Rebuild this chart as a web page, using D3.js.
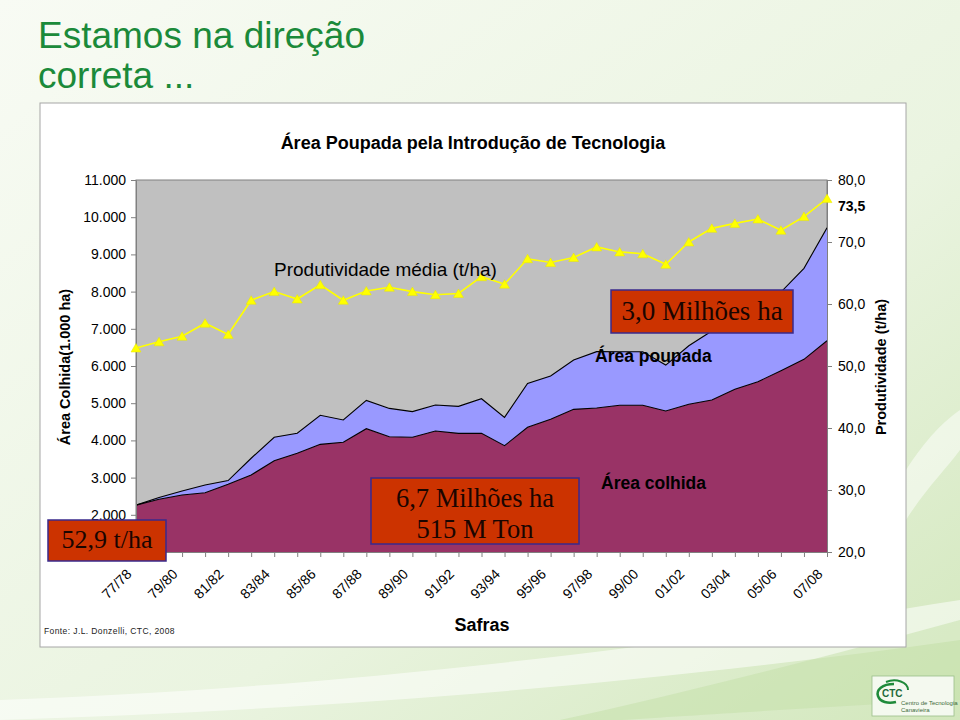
<!DOCTYPE html>
<html>
<head>
<meta charset="utf-8">
<script src="https://cdn.jsdelivr.net/npm/d3@7"></script>
<style>
  html, body { margin: 0; padding: 0; background: #ffffff; }
  svg { display: block; }
</style>
</head>
<body>
<svg id="chart" width="960" height="720" font-family="'Liberation Sans', Arial, sans-serif"></svg>
<script>
// ---------- DATA ----------
const seasons = ["77/78","78/79","79/80","80/81","81/82","82/83","83/84","84/85","85/86","86/87",
  "87/88","88/89","89/90","90/91","91/92","92/93","93/94","94/95","95/96","96/97",
  "97/98","98/99","99/00","00/01","01/02","02/03","03/04","04/05","05/06","06/07","07/08"];
const tickLabels = ["77/78","79/80","81/82","83/84","85/86","87/88","89/90","91/92",
  "93/94","95/96","97/98","99/00","01/02","03/04","05/06","07/08"];
// Área colhida (1.000 ha)
const areaColhida = [2260,2417,2532,2594,2820,3070,3455,3652,3894,3948,4315,4100,4083,4253,4190,4190,
  3858,4351,4566,4835,4871,4943,4943,4790,4970,5086,5373,5578,5873,6180,6680];
// Área poupada (1.000 ha), stacked on top of área colhida
const areaPoupada = [0,50,110,205,100,450,630,540,780,600,760,760,690,700,725,930,
  760,1180,1165,1325,1515,1440,1440,1235,1575,1855,2025,2180,2115,2445,3035];
// Produtividade média (t/ha)
const produtividade = [52.9,53.9,54.8,56.9,55.1,60.6,62.0,60.8,63.1,60.6,62.1,62.7,62.0,61.5,61.7,64.4,
  63.2,67.3,66.7,67.5,69.2,68.4,68.1,66.4,70.0,72.2,73.0,73.7,71.9,74.1,77.0];
const leftTicks = [1000,2000,3000,4000,5000,6000,7000,8000,9000,10000,11000];
const rightTicks = [20,30,40,50,60,70,80];

// ---------- SETUP ----------
const svg = d3.select("#chart");
const W = 960, H = 720;
const plot = { left: 136, right: 827, top: 180, bottom: 552 };
const serif = "'Liberation Serif', 'Times New Roman', serif";

const ptLocale = d3.formatLocale({ decimal: ",", thousands: ".", grouping: [3], currency: ["", ""] });
const fmtLeft = v => v === 1000 ? "" : ptLocale.format(",d")(v);   // 1.000 is hidden behind the box
const fmtRight = ptLocale.format(".1f");

// ---------- BACKGROUND ----------
const defs = svg.append("defs");
const bg = defs.append("linearGradient").attr("id", "bg").attr("x1", "0").attr("y1", "0").attr("x2", "1").attr("y2", "1");
bg.append("stop").attr("offset", "0%").attr("stop-color", "#f8fbf4");
bg.append("stop").attr("offset", "60%").attr("stop-color", "#eaf4e0");
bg.append("stop").attr("offset", "100%").attr("stop-color", "#d2e7bc");
svg.append("rect").attr("width", W).attr("height", H).attr("fill", "url(#bg)");
svg.append("path")
  .attr("d", "M0,700 C250,690 520,670 960,600 L960,640 C600,690 300,710 0,720 Z")
  .attr("fill", "#ffffff").attr("opacity", 0.55);
svg.append("path")
  .attr("d", "M906,470 C925,440 945,420 960,410 L960,450 C945,470 925,490 906,520 Z")
  .attr("fill", "#ffffff").attr("opacity", 0.5);
svg.append("path")
  .attr("d", "M560,720 C700,690 850,650 960,620 L960,700 C850,705 700,715 620,720 Z")
  .attr("fill", "#c4e0a8").attr("opacity", 0.5);

// Slide title
const title = svg.append("text").attr("fill", "#1b8a3a").attr("font-size", 37);
title.append("tspan").attr("x", 38).attr("y", 48).text("Estamos na direção");
title.append("tspan").attr("x", 38).attr("y", 88).text("correta ...");

// Chart card
svg.append("rect").attr("x", 40).attr("y", 103).attr("width", 866).attr("height", 544)
  .attr("fill", "#ffffff").attr("stroke", "#a6a6a6").attr("stroke-width", 1);

// ---------- SCALES ----------
const x = d3.scalePoint().domain(seasons).range([plot.left, plot.right]);
const yL = d3.scaleLinear().domain([1000, 11000]).range([plot.bottom, plot.top]);
const yR = d3.scaleLinear().domain([20, 80]).range([plot.bottom, plot.top]);

svg.append("rect").attr("x", plot.left).attr("y", plot.top)
  .attr("width", plot.right - plot.left).attr("height", plot.bottom - plot.top)
  .attr("fill", "#c0c0c0").attr("stroke", "#808080").attr("stroke-width", 1);

defs.append("clipPath").attr("id", "plotclip").append("rect")
  .attr("x", plot.left).attr("y", plot.top)
  .attr("width", plot.right - plot.left).attr("height", plot.bottom - plot.top);

// ---------- STACKED AREAS ----------
const rows = seasons.map((s, i) => ({ season: s, colhida: areaColhida[i], poupada: areaPoupada[i] }));
const series = d3.stack().keys(["colhida", "poupada"])(rows);
const colors = { colhida: "#993366", poupada: "#9999ff" };

const g = svg.append("g").attr("clip-path", "url(#plotclip)");
const area = d3.area().x(d => x(d.data.season)).y0(d => yL(d[0])).y1(d => yL(d[1]));
const topLine = d3.line().x(d => x(d.data.season)).y(d => yL(d[1]));

g.selectAll("path.area").data(series).join("path")
  .attr("class", "area").attr("d", area).attr("fill", d => colors[d.key]);
g.selectAll("path.edge").data(series).join("path")
  .attr("class", "edge").attr("d", topLine)
  .attr("fill", "none").attr("stroke", "#000000").attr("stroke-width", 1.1);

// ---------- AXES ----------
function styleAxis(sel) {
  sel.attr("font-family", null);
  sel.select(".domain").attr("stroke", "#808080");
  sel.selectAll(".tick line").attr("stroke", "#808080");
  sel.selectAll(".tick text").attr("fill", "#000").attr("font-size", 14);
}
const axL = svg.append("g").attr("transform", `translate(${plot.left},0)`)
  .call(d3.axisLeft(yL).tickValues(leftTicks).tickFormat(fmtLeft).tickSize(5).tickPadding(5).tickSizeOuter(0));
styleAxis(axL);
const axR = svg.append("g").attr("transform", `translate(${plot.right},0)`)
  .call(d3.axisRight(yR).tickValues(rightTicks).tickFormat(fmtRight).tickSize(5).tickPadding(6).tickSizeOuter(0));
styleAxis(axR);
const axB = svg.append("g").attr("transform", `translate(0,${plot.bottom})`)
  .call(d3.axisBottom(x).tickFormat(d => tickLabels.includes(d) ? d : "").tickSize(5).tickSizeOuter(0));
styleAxis(axB);
axB.selectAll(".tick text")
  .attr("text-anchor", "end")
  .attr("x", null).attr("y", null).attr("dy", null)
  .attr("transform", "translate(-4,23) rotate(-45)");

svg.append("text").attr("x", 838).attr("y", 211)
  .attr("font-size", 14).attr("font-weight", "bold").text("73,5");

// ---------- PRODUTIVIDADE LINE ----------
const line = d3.line().x((d, i) => x(seasons[i])).y(d => yR(d));
svg.append("path").datum(produtividade)
  .attr("d", line).attr("fill", "none").attr("stroke", "#ffff00").attr("stroke-width", 1.6);
const tri = "M0,-4.5 L5,4 L-5,4 Z";
svg.selectAll("path.mk").data(produtividade).join("path")
  .attr("class", "mk")
  .attr("transform", (d, i) => `translate(${x(seasons[i])},${yR(d)})`)
  .attr("d", tri).attr("fill", "#ffff00").attr("stroke", "#e6e600").attr("stroke-width", 0.5);

// ---------- TITLES & LABELS ----------
svg.append("text").attr("x", 473).attr("y", 149).attr("text-anchor", "middle")
  .attr("font-size", 18).attr("font-weight", "bold").text("Área Poupada pela Introdução de Tecnologia");
svg.append("text").attr("transform", "translate(70,367) rotate(-90)").attr("text-anchor", "middle")
  .attr("font-size", 14.5).attr("font-weight", "bold").text("Área Colhida(1.000 ha)");
svg.append("text").attr("transform", "translate(886,367) rotate(-90)").attr("text-anchor", "middle")
  .attr("font-size", 14.5).attr("font-weight", "bold").text("Produtividade (t/ha)");
svg.append("text").attr("x", 482).attr("y", 631).attr("text-anchor", "middle")
  .attr("font-size", 18).attr("font-weight", "bold").text("Safras");
svg.append("text").attr("x", 44).attr("y", 634).attr("font-size", 8.5).attr("letter-spacing", 0.4)
  .attr("fill", "#222").text("Fonte: J.L. Donzelli, CTC, 2008");

svg.append("text").attr("x", 274).attr("y", 276).attr("font-size", 19)
  .attr("fill", "#000").text("Produtividade média (t/ha)");
svg.append("text").attr("x", 595).attr("y", 362).attr("font-size", 17.5).attr("font-weight", "bold")
  .attr("fill", "#000").text("Área poupada");
svg.append("text").attr("x", 601).attr("y", 489).attr("font-size", 17.5).attr("font-weight", "bold")
  .attr("fill", "#000").text("Área colhida");

// ---------- ANNOTATION BOXES ----------
function box(x0, y0, w, h, lines, baselines, fs) {
  svg.append("rect").attr("x", x0).attr("y", y0).attr("width", w).attr("height", h)
    .attr("fill", "#cc3300").attr("stroke", "#3a2a8c").attr("stroke-width", 1.5);
  lines.forEach((t, i) => {
    svg.append("text").attr("x", x0 + w / 2).attr("y", baselines[i]).attr("text-anchor", "middle")
      .attr("font-family", serif)
      .attr("font-size", fs).attr("fill", "#1a0500").text(t);
  });
}
box(48, 520, 118, 41, ["52,9 t/ha"], [548], 26);
box(371, 478, 208, 66, ["6,7 Milhões ha", "515 M Ton"], [507, 538], 26.5);
box(611, 290, 182, 43, ["3,0 Milhões ha"], [320], 27);

// ---------- LOGO ----------
const logo = svg.append("g").attr("transform", "translate(872,676)");
logo.append("rect").attr("width", 82).attr("height", 40).attr("fill", "#f4f9ef").attr("stroke", "#9bbf8a").attr("stroke-width", 0.8);
logo.append("path").attr("d", "M22,8 C10,8 4,14 6,20 C8,26 16,28 24,26").attr("fill", "none").attr("stroke", "#1f8a3a").attr("stroke-width", 2.5);
logo.append("path").attr("d", "M14,6 C24,2 36,6 36,14").attr("fill", "none").attr("stroke", "#1f8a3a").attr("stroke-width", 2);
logo.append("text").attr("x", 10).attr("y", 21).attr("font-size", 10).attr("font-weight", "bold").attr("fill", "#1f6a3a").text("CTC");
logo.append("text").attr("x", 29).attr("y", 29).attr("font-size", 6).attr("fill", "#3c6b3c").text("Centro de Tecnologia");
logo.append("text").attr("x", 29).attr("y", 36).attr("font-size", 6).attr("fill", "#3c6b3c").text("Canavieira");
</script>
</body>
</html>
